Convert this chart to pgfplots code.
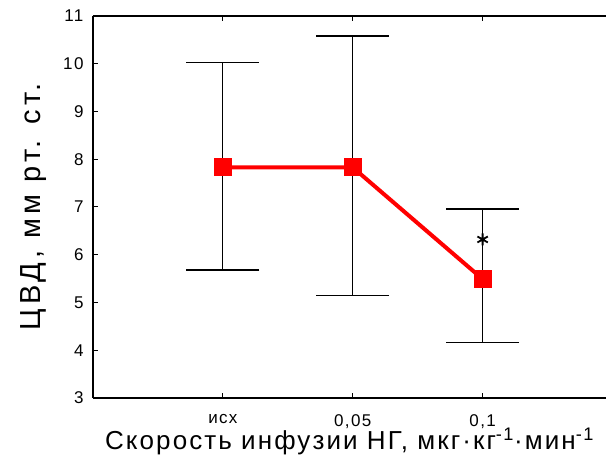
\documentclass[border=0pt]{standalone}
\usepackage{pgfplots}
\pgfplotsset{compat=1.18}
\usepackage{fontspec}
\setmainfont{Liberation Sans}
\newfontfamily\ylabfont[LetterSpace=14]{Liberation Sans}
\newfontfamily\xlabfont[LetterSpace=8]{Liberation Sans}
\newfontfamily\tickfont[LetterSpace=8]{Liberation Sans}
\begin{document}
\begin{tikzpicture}
\begin{axis}[name=ax,
  scale only axis, width=513pt, height=382pt,
  xmin=0, xmax=3.95, ymin=3, ymax=11,
  axis x line*=box, axis y line*=left,
  y axis line style={-, line width=1.3pt},
  x axis line style={line width=1.3pt},
  xtick={1,2,3}, xticklabels={исх,{0,05},{0,1}},
  ytick={3,4,...,11},
  tick align=inside, major tick length=5pt,
  tick style={black, line width=1pt},
  xtick pos=both, ytick pos=left,
  /pgf/number format/assume math mode=true,
  ticklabel style={font=\tickfont\fontsize{17}{19}\selectfont},
  yticklabel style={xshift=-6pt},
  xticklabel style={yshift=-15pt, inner sep=1pt},
  xlabel={\xlabfont Скорость инфузии НГ, мкг·кг\textsuperscript{-1}·мин\textsuperscript{-1}},
  ylabel={\ylabfont ЦВД, мм рт. ст.},
  xlabel style={font=\fontsize{26}{29}\selectfont, yshift=2pt, inner sep=1pt},
  ylabel style={font=\fontsize{29}{32}\selectfont, yshift=10pt},
  clip=false,
]
\addplot[black, line width=1.2pt, draw=none,
  error bars/.cd, y dir=both, y explicit,
  error bar style={black, line width=1.2pt},
  error mark options={black, line width=1.2pt, mark size=36.5pt, rotate=90}]
  coordinates {
    (1,7.83) += (0,2.19) -= (0,2.15)
    (2,7.83) += (0,2.75) -= (0,2.69)
    (3,5.49) += (0,1.47) -= (0,1.32)
  };
\addplot[red, line width=4pt, mark=square*, mark size=8.5pt,
  mark options={solid, line width=0pt}]
  coordinates {(1,7.83) (2,7.83) (3,5.49)};
\addplot[only marks, black, mark=asterisk, mark size=6pt,
  mark options={line width=1.8pt}]
  coordinates {(3,6.32)};
\end{axis}
\pgfresetboundingbox
\path ([xshift=-93pt,yshift=16pt]ax.north west) rectangle ([yshift=-71pt]ax.south east);
\end{tikzpicture}
\end{document}
